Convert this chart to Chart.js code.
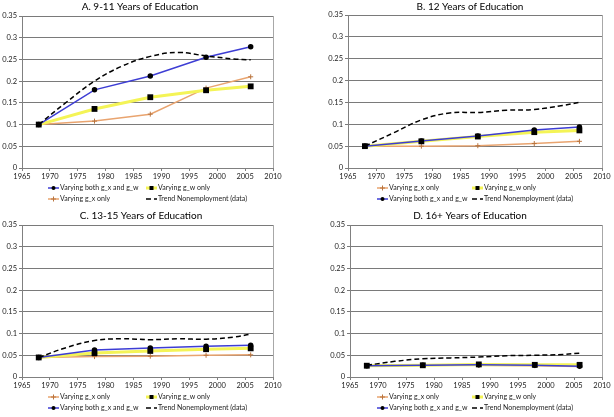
<!DOCTYPE html>
<html>
<head>
<meta charset="utf-8">
<script src="https://cdn.jsdelivr.net/npm/chart.js@4.4.1/dist/chart.umd.min.js"></script>
<style>
  html, body { margin: 0; padding: 0; background: #fff; }
  body { width: 614px; height: 417px; position: relative; overflow: hidden; }
  canvas { position: absolute; }
</style>
</head>
<body>
<canvas id="panelA" width="285" height="207" style="left:0;top:0"></canvas>
<canvas id="panelB" width="289" height="207" style="left:325px;top:0"></canvas>
<canvas id="panelC" width="285" height="210" style="left:0;top:207px"></canvas>
<canvas id="panelD" width="289" height="210" style="left:325px;top:207px"></canvas>
<script>
// ---- data ----
const years = [1968, 1978, 1988, 1998, 2006];
const trendYears = [1968, 1973, 1978, 1983, 1988, 1993, 1998, 2003, 2006];
const xTickLabels = ['1965', '1970', '1975', '1980', '1985', '1990', '1995', '2000', '2005', '2010'];
const yTickLabels = ['0', '0.05', '0.1', '0.15', '0.2', '0.25', '0.3', '0.35'];

const titleA = 'A. 9-11 Years of Education';
const bothA  = [0.100, 0.180, 0.212, 0.255, 0.279];
const gwA    = [0.100, 0.136, 0.163, 0.179, 0.188];
const gxA    = [0.100, 0.108, 0.124, 0.184, 0.210];
const trendA = [0.100, 0.152, 0.200, 0.235, 0.257, 0.266, 0.258, 0.251, 0.249];

const titleB = 'B. 12 Years of Education';
const bothB  = [0.050, 0.062, 0.073, 0.087, 0.094];
const gwB    = [0.050, 0.061, 0.072, 0.082, 0.086];
const gxB    = [0.050, 0.050, 0.051, 0.056, 0.061];
const trendB = [0.050, 0.080, 0.110, 0.126, 0.127, 0.132, 0.134, 0.143, 0.150];

const titleC = 'C. 13-15 Years of Education';
const bothC  = [0.045, 0.062, 0.067, 0.071, 0.073];
const gwC    = [0.045, 0.055, 0.060, 0.064, 0.066];
const gxC    = [0.045, 0.047, 0.048, 0.050, 0.051];
const trendC = [0.045, 0.068, 0.084, 0.088, 0.086, 0.088, 0.087, 0.092, 0.099];

const titleD = 'D. 16+ Years of Education';
const bothD  = [0.026, 0.027, 0.028, 0.027, 0.025];
const gwD    = [0.026, 0.027, 0.029, 0.028, 0.028];
const gxD    = [0.026, 0.027, 0.027, 0.026, 0.024];
const trendD = [0.027, 0.036, 0.042, 0.044, 0.046, 0.049, 0.050, 0.052, 0.055];

// ---- styles ----
const FONT = 'Lato, "Liberation Sans", sans-serif';
Chart.defaults.font.family = FONT;
Chart.defaults.color = '#222';

const styles = {
  both:  { label: 'Varying both g_x and g_w', borderColor: '#3d3dd4', borderWidth: 1.5,
           pointStyle: 'circle', pointRadius: 2, pointBackgroundColor: '#000', pointBorderColor: '#000', order: 1 },
  gw:    { label: 'Varying g_w only', borderColor: '#f4f456', borderWidth: 3,
           pointStyle: 'rect', pointRadius: 2, pointBackgroundColor: '#000', pointBorderColor: '#000', order: 2 },
  gx:    { label: 'Varying g_x only', borderColor: '#e9a46f', borderWidth: 1.5,
           pointStyle: 'cross', pointRadius: 2.5, pointBorderColor: '#b9743e', pointBorderWidth: 1, order: 3 },
  trend: { label: 'Trend Nonemployment (data)', borderColor: '#000', borderWidth: 1.5, borderDash: [5, 3],
           pointRadius: 0, tension: 0.4, order: 0 }
};

function pts(xs, ys) {
  return xs.map((x, i) => ({ x: x, y: ys[i] }));
}

function series(key, xs, ys) {
  return Object.assign({ data: pts(xs, ys), fill: false, tension: 0, pointHoverRadius: 0 }, styles[key]);
}

// title centred where the original sits
const panelTitle = {
  id: 'panelTitle',
  afterDraw(chart, args, opts) {
    const ctx = chart.ctx;
    ctx.save();
    ctx.fillStyle = '#000';
    ctx.font = '10px ' + FONT;
    ctx.textAlign = 'center';
    ctx.textBaseline = 'middle';
    ctx.fillText(opts.text, opts.x, opts.y);
    ctx.restore();
  }
};

// excel-like 2 column legend under the plot
const excelLegend = {
  id: 'excelLegend',
  afterDraw(chart, args, opts) {
    const ctx = chart.ctx;
    const base = chart.chartArea.bottom;
    chart.data.datasets.forEach((ds, i) => {
      const x = opts.cols[i % 2];
      const y = base + opts.rows[Math.floor(i / 2)];
      ctx.save();
      ctx.strokeStyle = ds.borderColor;
      ctx.lineWidth = ds.borderWidth;
      ctx.setLineDash(ds.borderDash || []);
      ctx.beginPath();
      ctx.moveTo(x, y);
      ctx.lineTo(x + 11, y);
      ctx.stroke();
      ctx.setLineDash([]);
      const mx = x + 5.5;
      if (ds.pointStyle === 'circle' && ds.pointRadius) {
        ctx.fillStyle = '#000';
        ctx.beginPath();
        ctx.arc(mx, y, 2, 0, Math.PI * 2);
        ctx.fill();
      } else if (ds.pointStyle === 'rect' && ds.pointRadius) {
        ctx.fillStyle = '#000';
        ctx.fillRect(mx - 2, y - 2, 4, 4);
      } else if (ds.pointStyle === 'cross' && ds.pointRadius) {
        ctx.strokeStyle = ds.pointBorderColor;
        ctx.lineWidth = 1;
        ctx.beginPath();
        ctx.moveTo(mx - 2.5, y); ctx.lineTo(mx + 2.5, y);
        ctx.moveTo(mx, y - 2.5); ctx.lineTo(mx, y + 2.5);
        ctx.stroke();
      }
      ctx.fillStyle = '#222';
      ctx.font = '7px ' + FONT;
      ctx.textBaseline = 'middle';
      ctx.fillText(ds.label, x + 12, y);
      ctx.restore();
    });
  }
};

const rightBorder = {
  id: 'rightBorder',
  afterDatasetsDraw(chart) {
    const a = chart.chartArea;
    const ctx = chart.ctx;
    ctx.save();
    ctx.strokeStyle = '#a8a8a8';
    ctx.lineWidth = 1;
    ctx.beginPath();
    ctx.moveTo(Math.round(a.right) + 0.5, a.top);
    ctx.lineTo(Math.round(a.right) + 0.5, a.bottom);
    ctx.stroke();
    ctx.restore();
  }
};

function makePanel(id, title, datasets, lay) {
  return new Chart(document.getElementById(id), {
    type: 'line',
    data: { datasets: datasets },
    plugins: [rightBorder, excelLegend, panelTitle],
    options: {
      responsive: false,
      animation: false,
      layout: { padding: { left: 0, right: 12, top: lay.padTop, bottom: lay.padBottom } },
      plugins: {
        legend: { display: false },
        tooltip: { enabled: false },
        title: { display: false },
        panelTitle: { text: title, x: lay.titleX, y: lay.titleY },
        excelLegend: { cols: lay.cols, rows: [20, 31] }
      },
      scales: {
        x: {
          type: 'linear', min: 1965, max: 2010,
          afterFit: s => { s.height = 13; },
          afterBuildTicks: s => { s.ticks = xTickLabels.map(t => ({ value: +t })); },
          ticks: { callback: (v, i) => xTickLabels[i], font: { size: 7.5 }, maxRotation: 0, padding: 1, color: '#222' },
          grid: { drawOnChartArea: false, drawTicks: true, tickLength: 3, color: '#808080' },
          border: { color: '#808080' }
        },
        y: {
          min: 0, max: 0.35,
          afterFit: s => { s.width = lay.yWidth; },
          afterBuildTicks: s => { s.ticks = yTickLabels.map(t => ({ value: +t })); },
          ticks: { callback: (v, i) => yTickLabels[i], font: { size: 7.5 }, padding: 2, color: '#222' },
          grid: { color: '#7a7a7a', tickLength: 3 },
          border: { color: '#808080' }
        }
      }
    }
  });
}

makePanel('panelA', titleA, [
  series('both', years, bothA),
  series('gw', years, gwA),
  series('gx', years, gxA),
  series('trend', trendYears, trendA)
], { yWidth: 22, padTop: 16, padBottom: 26, titleX: 140, titleY: 7, cols: [48, 146] });

makePanel('panelB', titleB, [
  series('gx', years, gxB),
  series('gw', years, gwB),
  series('both', years, bothB),
  series('trend', trendYears, trendB)
], { yWidth: 23, padTop: 15, padBottom: 26, titleX: 145, titleY: 7, cols: [52, 147] });

makePanel('panelC', titleC, [
  series('gx', years, gxC),
  series('gw', years, gwC),
  series('both', years, bothC),
  series('trend', trendYears, trendC)
], { yWidth: 22, padTop: 18, padBottom: 27, titleX: 141, titleY: 9, cols: [48, 146] });

makePanel('panelD', titleD, [
  series('gx', years, gxD),
  series('gw', years, gwD),
  series('both', years, bothD),
  series('trend', trendYears, trendD)
], { yWidth: 25, padTop: 18, padBottom: 27, titleX: 145, titleY: 9, cols: [52, 147] });
</script>
</body>
</html>
